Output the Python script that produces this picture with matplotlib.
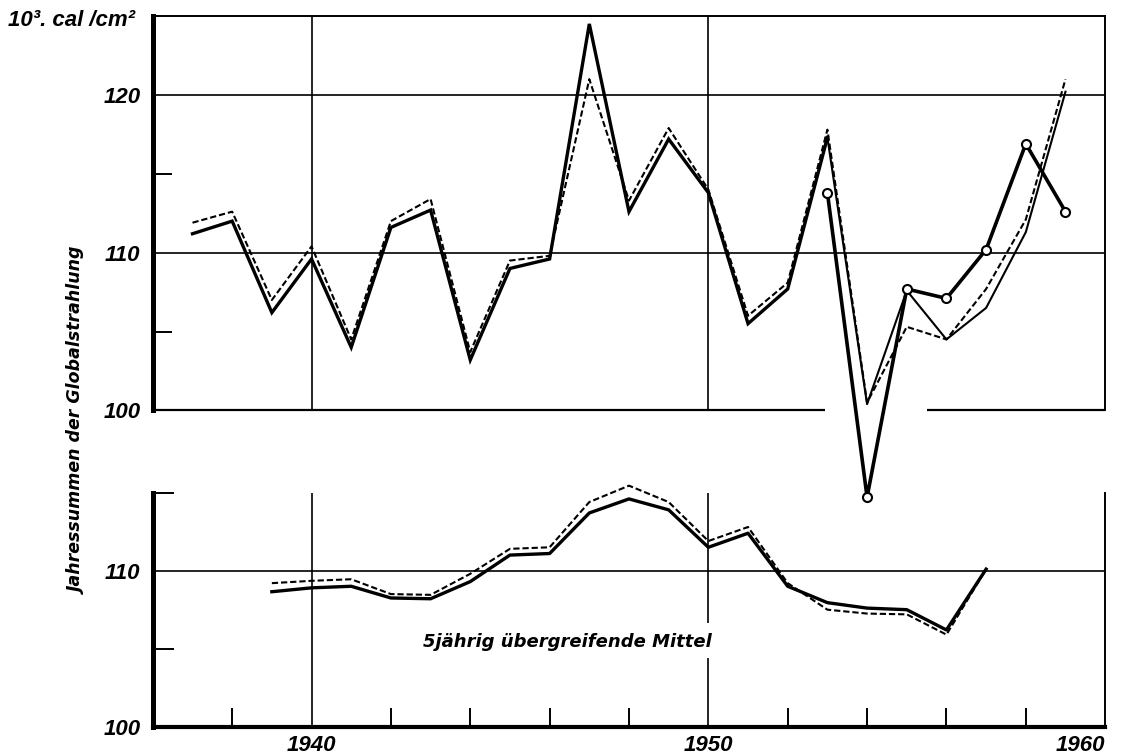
import matplotlib
matplotlib.use("Agg")
import matplotlib.pyplot as plt

# annual sums of global radiation, 10^3 cal/cm^2
years = list(range(1937, 1960))
annual = [111.2, 112.0, 106.2, 109.6, 104.0, 111.6, 112.7, 103.2, 109.0, 109.6,
          124.5, 112.6, 117.2, 113.8, 105.5, 107.7, 117.3, 100.4, 107.6, 104.5,
          106.5, 111.3, 120.2]
annual_dashed = [111.9, 112.6, 107.0, 110.4, 104.5, 112.0, 113.4, 103.7, 109.5, 109.8,
                 121.0, 113.3, 117.9, 114.0, 106.0, 108.1, 117.8, 100.5, 105.3, 104.5,
                 107.7, 112.1, 121.0]
circle_years = list(range(1953, 1960))
circle_vals = [113.8, 94.5, 107.7, 107.1, 110.2, 116.9, 112.6]

# 5-year running means
mean_years = list(range(1939, 1958))
mean_solid = [108.65, 108.9, 109.0, 108.25, 108.2, 109.3, 111.0, 111.1, 113.7, 114.6,
              113.9, 111.5, 112.4, 109.0, 107.95, 107.6, 107.5, 106.2, 110.1]
mean_dashed = [109.2, 109.35, 109.45, 108.5, 108.45, 109.8, 111.4, 111.5, 114.4, 115.45,
               114.4, 111.9, 112.8, 109.2, 107.5, 107.25, 107.2, 105.9, 110.1]

FONT = dict(family=["Liberation Sans", "DejaVu Sans"], weight="bold", style="italic")
TXT = dict(family=["DejaVu Sans"], weight="bold", style="italic")
K = "black"

fig = plt.figure(figsize=(11.37, 7.56), dpi=100)
fig.patch.set_facecolor("white")
ax1 = fig.add_axes([0.1344, 0.4571, 0.8376, 0.5217])
ax2 = fig.add_axes([0.1344, 0.0388, 0.8376, 0.3095])

for ax in (ax1, ax2):
    ax.set_xlim(1936, 1960)
    ax.set_facecolor("none")
    ax.spines["left"].set_linewidth(3.6)
    ax.spines["right"].set_linewidth(1.4)
    ax.spines["top"].set_linewidth(1.4)
    ax.spines["bottom"].set_linewidth(3.0)

# ---- upper panel
ax1.set_ylim(100, 125)
ax1.spines["bottom"].set_visible(False)
ax1.hlines(100, 1936, 1952.95, color=K, lw=1.6, clip_on=False)
ax1.hlines(100, 1955.5, 1960, color=K, lw=1.6, clip_on=False)
for v in (110, 120):
    ax1.axhline(v, color=K, lw=1.2, zorder=1)
for yr in (1940, 1950):
    ax1.axvline(yr, color=K, lw=1.2, zorder=1)

n = years.index(1953) + 1
ax1.plot(years[:n], annual[:n], color=K, lw=2.4, solid_joinstyle="miter", zorder=4)
ax1.plot(years[n - 1:], annual[n - 1:], color=K, lw=1.5, zorder=4, clip_on=False)
ax1.plot(years, annual_dashed, color=K, lw=1.5, dashes=(3, 1.4), zorder=3, clip_on=False)
ax1.plot(circle_years, circle_vals, color=K, lw=2.6, marker="o", ms=6.5,
         mfc="white", mec=K, mew=1.5, zorder=5, clip_on=False)

ax1.set_xticks([])
ax1.set_yticks([100, 110, 120])
ax1.set_yticks([105, 115], minor=True)
ax1.tick_params(axis="y", which="major", length=0, pad=9)
ax1.tick_params(axis="y", which="minor", direction="in", length=14, width=1.4)
for lab in ax1.get_yticklabels():
    lab.set(fontsize=16, **FONT)

# ---- lower panel
ax2.set_ylim(100, 115)
ax2.spines["top"].set_visible(False)
ax2.axhline(110, color=K, lw=1.2, zorder=1)
ax2.vlines(1940, 100, 115, color=K, lw=1.2, zorder=1)
ax2.vlines(1950, 100, 104.4, color=K, lw=1.2, zorder=1)
ax2.vlines(1950, 106.65, 115, color=K, lw=1.2, zorder=1)

ax2.plot(mean_years, mean_solid, color=K, lw=2.4, zorder=4, clip_on=False)
ax2.plot(mean_years, mean_dashed, color=K, lw=1.5, dashes=(3, 1.4), zorder=3, clip_on=False)

ax2.text(1942.8, 105.4, "5jährig übergreifende Mittel", fontsize=13,
         ha="left", va="center", **TXT)

ax2.set_yticks([100, 110])
ax2.set_yticks([105, 115], minor=True)
ax2.set_xticks([1940, 1950, 1960])
ax2.set_xticks(list(range(1938, 1960, 2)), minor=True)
ax2.tick_params(axis="y", which="major", length=0, pad=9)
ax2.tick_params(axis="y", which="minor", direction="in", length=15, width=1.4)
ax2.tick_params(axis="x", which="major", length=0, pad=6)
ax2.tick_params(axis="x", which="minor", direction="in", length=14, width=1.4)
for lab in ax2.get_yticklabels() + ax2.get_xticklabels():
    lab.set(fontsize=16, **FONT)
ax2.get_xticklabels()[-1].set_ha("right")

fig.text(8 / 1137, 1 - 20 / 756, "10³. cal /cm²", fontsize=16, ha="left",
         va="center", **FONT)
fig.text(78 / 1137, 1 - 421 / 756, "Jahressummen der Globalstrahlung", fontsize=12.5,
         rotation=90, ha="center", va="center", **TXT)

fig.savefig("out.png", dpi=100)
